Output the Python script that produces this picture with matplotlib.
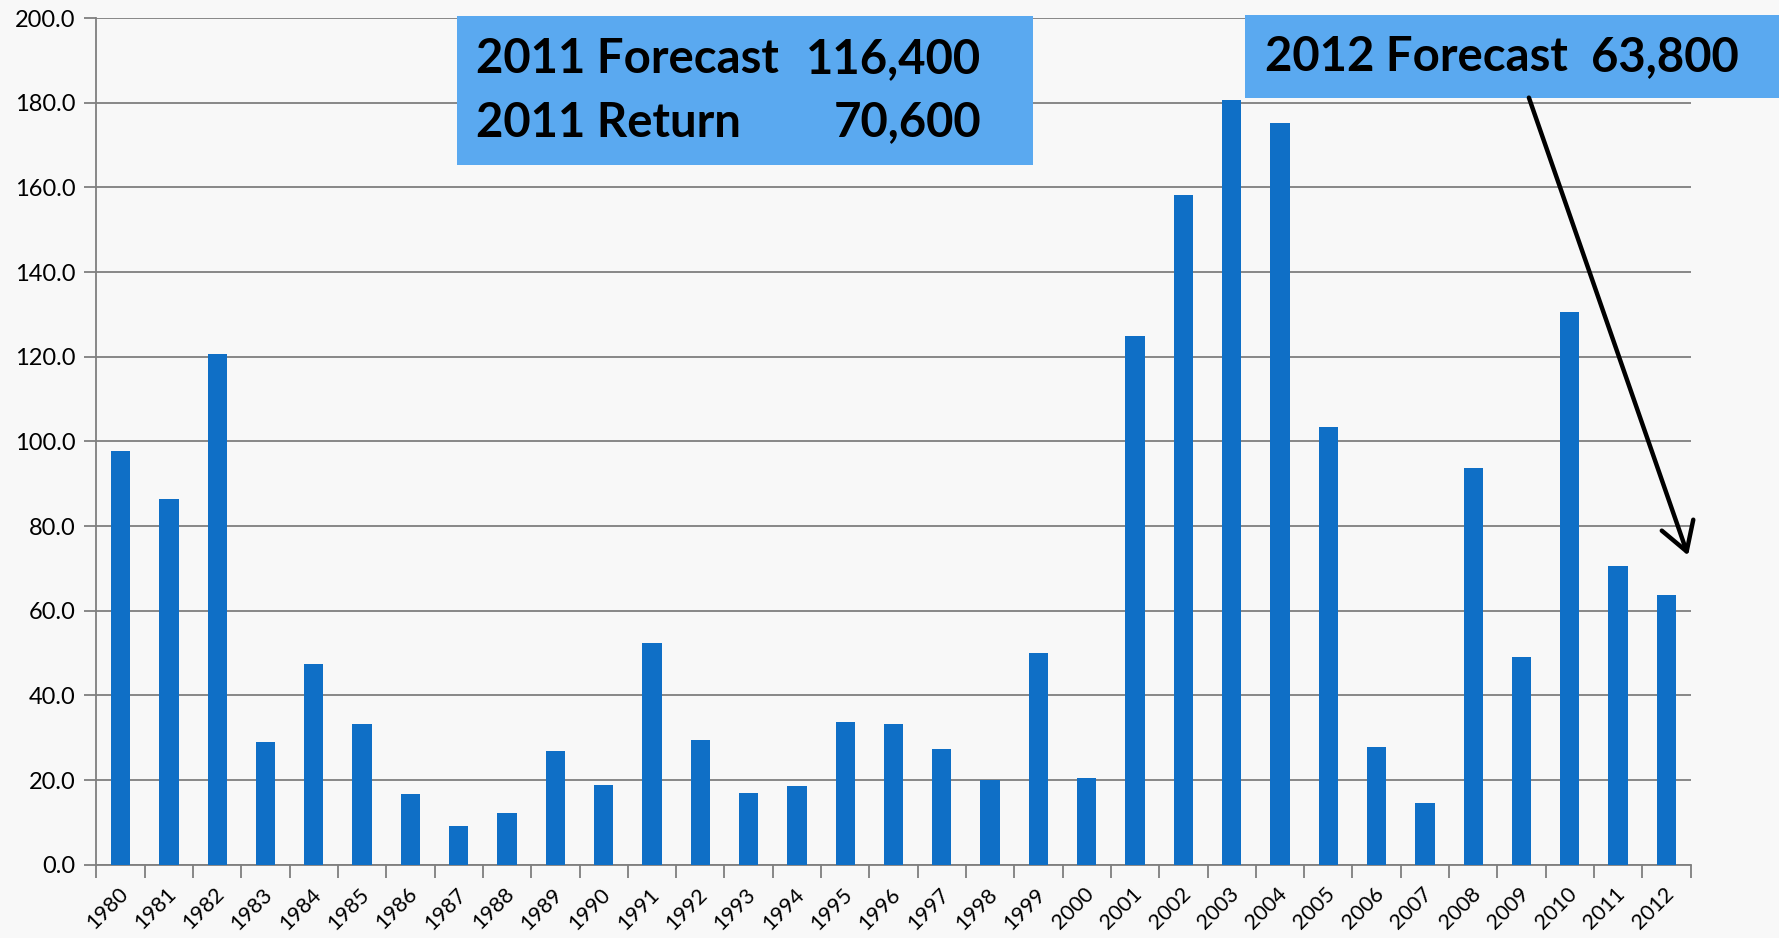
import matplotlib
matplotlib.use("Agg")
import matplotlib.pyplot as plt
import matplotlib.patches as mpatches
import matplotlib.transforms as mtransforms
import numpy as np

years = [str(y) for y in range(1980, 2013)]
returns = [97.8, 86.3, 120.6, 29.0, 47.5, 33.2, 16.6, 9.1, 12.1, 26.8,
           18.8, 52.3, 29.5, 16.9, 18.5, 33.8, 33.2, 27.3, 20.1, 50.1,
           20.4, 124.9, 158.2, 180.7, 175.3, 103.5, 27.9, 14.5, 93.8, 49.1,
           130.6, 70.6, 63.8]
yticks = np.arange(0, 201, 20)

BAR = "#0F6FC6"
BOX = "#5AA9F0"
GRID = "#7F7F7F"

plt.rcParams["font.family"] = ["Lato", "DejaVu Sans"]

fig = plt.figure(figsize=(17.79, 9.38), dpi=100)
fig.patch.set_facecolor("#F8F8F8")
ax = fig.add_axes([0.0542, 0.0782, 0.8961, 0.9024])
ax.set_facecolor("none")

x = np.arange(len(years))
ax.bar(x, returns, width=0.4, color=BAR, zorder=3)

ax.set_xlim(-0.5, len(years) - 0.5)
ax.set_ylim(0, 200)
ax.set_yticks(yticks)
ax.set_yticklabels([f"{v:.1f}" for v in yticks])
ax.grid(axis="y", color=GRID, linewidth=1.3, zorder=1)
ax.set_axisbelow(True)

# category labels centred, tick marks at boundaries
ax.set_xticks(x)
ax.set_xticklabels(years, rotation=45, ha="right", rotation_mode="anchor")
ax.set_xticks(np.arange(-0.5, len(years), 1), minor=True)
ax.tick_params(axis="x", which="major", length=0, pad=14, labelsize=15.5)
ax.tick_params(axis="x", which="minor", length=9, width=1.3, color=GRID)
ax.tick_params(axis="y", length=9, width=1.3, color=GRID, pad=6, labelsize=17)
shift = mtransforms.ScaledTranslation(-3 / 100, 0, fig.dpi_scale_trans)
for lbl in ax.get_xticklabels():
    lbl.set_transform(lbl.get_transform() + shift)

for s in ["top", "right"]:
    ax.spines[s].set_visible(False)
for s in ["left", "bottom"]:
    ax.spines[s].set_color(GRID)
    ax.spines[s].set_linewidth(1.3)

# annotation boxes
fig.patches.append(mpatches.Rectangle((0.2569, 0.824), 0.3238, 0.159,
                                      transform=fig.transFigure,
                                      facecolor=BOX, edgecolor="none", zorder=5))
fig.patches.append(mpatches.Rectangle((0.6998, 0.8955), 0.3002, 0.0885,
                                      transform=fig.transFigure,
                                      facecolor=BOX, edgecolor="none", zorder=5))

tkw = dict(fontsize=34, fontweight="bold", color="black", va="center", zorder=6)
fig.text(0.2678, 0.937, "2011 Forecast", ha="left", **tkw)
fig.text(0.5514, 0.937, "116,400", ha="right", **tkw)
fig.text(0.2678, 0.8694, "2011 Return", ha="left", **tkw)
fig.text(0.5514, 0.8694, "70,600", ha="right", **tkw)
fig.text(0.711, 0.939, "2012 Forecast", ha="left", **tkw)
fig.text(0.9775, 0.939, "63,800", ha="right", **tkw)

fig.add_artist(mpatches.FancyArrowPatch(
    (0.8589, 0.8987), (0.9494, 0.405), transform=fig.transFigure,
    arrowstyle="->,head_length=1.0,head_width=0.6", color="black",
    linewidth=3.2, mutation_scale=20, zorder=6))

fig.savefig("out.png", dpi=100, facecolor=fig.get_facecolor())
